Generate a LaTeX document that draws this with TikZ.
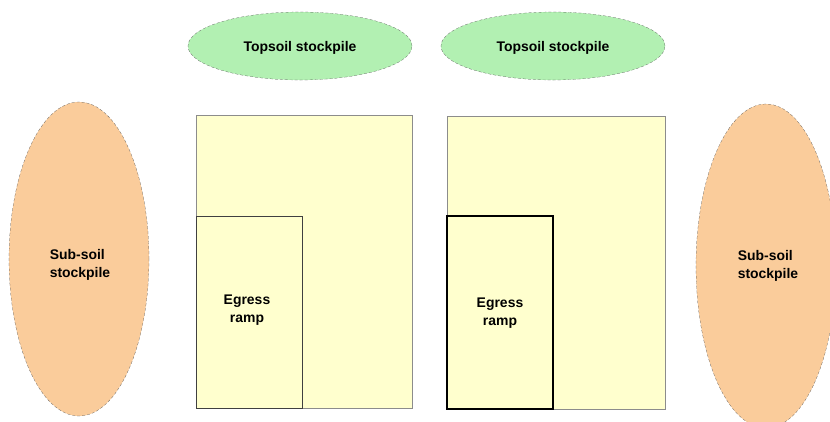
\documentclass[tikz,border=0pt]{standalone}
\usepackage{fontspec}
\setmainfont{Liberation Sans}
\usetikzlibrary{shapes.geometric}
\definecolor{topgreen}{RGB}{178,240,178}
\definecolor{subsoil}{RGB}{250,204,155}
\definecolor{pitfill}{RGB}{255,255,206}
\tikzset{
    pilefont/.style={font=\bfseries\fontsize{14}{18}\selectfont},
    topsoil/.style={ellipse, draw=black!70, densely dashed, very thin, fill=topgreen,
        minimum width=224bp, minimum height=68bp, inner sep=0pt},
    subsoilpile/.style={ellipse, draw=black!70, densely dashed, very thin, fill=subsoil,
        minimum width=140bp, minimum height=314bp, inner sep=0pt},
    pit/.style={draw=black!45, fill=pitfill, line width=0.8bp},
    ramp/.style={draw=black!75, line width=1bp}
}
\begin{document}
\begin{tikzpicture}[x=1bp, y=-1bp]
    \useasboundingbox (0,0) rectangle (830,421);

    % stockpiles
    \node[topsoil] (topL) at (300,46) {};
    \node[topsoil] (topR) at (553,46) {};
    \node[pilefont] (topLtxt) at ([yshift=-2bp]topL.center) {Topsoil stockpile};
    \node[pilefont] (topRtxt) at ([yshift=-2bp]topR.center) {Topsoil stockpile};
    \node[subsoilpile] (subL) at (79,259) {};
    \node[subsoilpile, minimum height=324bp] (subR) at (766,266) {};
    \node[pilefont, align=left] (subLtxt) at (80,265) {Sub-soil\\stockpile};
    \node[pilefont, align=left] (subRtxt) at (768,266) {Sub-soil\\stockpile};

    % pits with egress ramps
    \draw[pit] (196,115) rectangle (412,408);
    \draw[ramp] (196,216) rectangle (302,408);
    \node[pilefont, align=center] (egressL) at (247,310) {Egress\\ramp};

    \draw[pit] (447,116) rectangle (665,409);
    \draw[ramp, draw=black, line width=1.2bp] (447,216) rectangle (553,409);
    \node[pilefont, align=center] (egressR) at (500,313) {Egress\\ramp};
\end{tikzpicture}
\end{document}
